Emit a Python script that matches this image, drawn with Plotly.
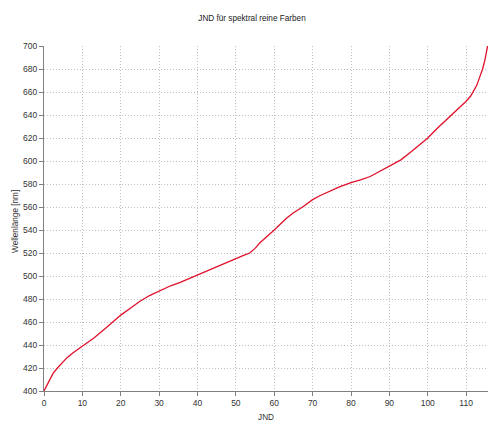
import plotly.graph_objects as go

jnd = [0, 1, 2.4, 3.5, 4.6, 6, 7.5, 10, 13, 16.2, 20, 22.5, 25, 27.5, 30, 33, 35.5, 40, 45,
       50, 52, 53.6, 55, 56.2, 58, 60, 63.1, 65, 67.4, 70, 72, 74.3, 77, 80, 82.5, 85, 88,
       90, 93, 96, 100, 102.5, 104.9, 108, 110, 111.2, 111.9, 112.8, 113.6, 114.3, 114.9,
       115.6]
wavelength = [400, 407, 415.5, 420, 424, 429, 433, 439, 446, 455, 466, 472, 478, 483, 487,
              491.5, 494.5, 501, 507.8, 515.7, 518, 520, 524, 528.7, 534, 540, 550, 555, 560,
              566.4, 570, 573.5, 577.5, 581.2, 583.5, 586.5, 592, 596, 601, 609, 620, 628.5,
              636, 645, 652, 656.5, 660.6, 666, 673.6, 680, 688, 700]

x_ticks = [0, 10, 20, 30, 40, 50, 60, 70, 80, 90, 100, 110]
y_ticks = [400, 420, 440, 460, 480, 500, 520, 540, 560, 580, 600, 620, 640, 660, 680, 700]

# the page body has an 8px margin, so the figure is sized to fit the 500x430 window
W, H = 492, 422
ML, MR, MT, MB = 36, 12, 38, 39
PW, PH = W - ML - MR, H - MT - MB

fig = go.Figure()
fig.add_trace(go.Scatter(x=jnd, y=wavelength, mode="lines",
                         line=dict(color="#e0102a", width=1.3),
                         showlegend=False, hoverinfo="skip"))

font = dict(family="Liberation Sans, Arial, sans-serif", size=8.5, color="#333333")
grid = dict(showgrid=True, gridcolor="#c0c0c0", griddash="1px,2px", gridwidth=1,
            showline=True, linecolor="#808080", linewidth=1, ticks="outside", ticklen=4,
            tickcolor="#808080", zeroline=False, automargin=False,
            tickfont=dict(size=8.5, color="#333333"))
fig.update_layout(
    width=W, height=H,
    margin=dict(l=ML, r=MR, t=MT, b=MB),
    paper_bgcolor="white", plot_bgcolor="white",
    font=font,
    title=dict(text="JND für spektral reine Farben", x=244 / W, xanchor="center",
               y=1 - 10 / H, yanchor="middle", font=dict(size=8.2, color="#222222"),
               automargin=False),
    xaxis=dict(range=[0, 115.7], tickvals=x_ticks,
               title=dict(text="JND", standoff=7, font=dict(size=8.2, color="#333333")),
               **grid),
    yaxis=dict(range=[400, 700], tickvals=y_ticks, **grid),
    annotations=[
        dict(text="Wellenlänge [nm]", textangle=-90, showarrow=False,
             xref="paper", yref="paper", x=(8 - ML) / PW, y=0.49,
             xanchor="center", yanchor="middle", font=dict(size=8.2, color="#333333")),
    ],
)
fig.write_html("out.html")
